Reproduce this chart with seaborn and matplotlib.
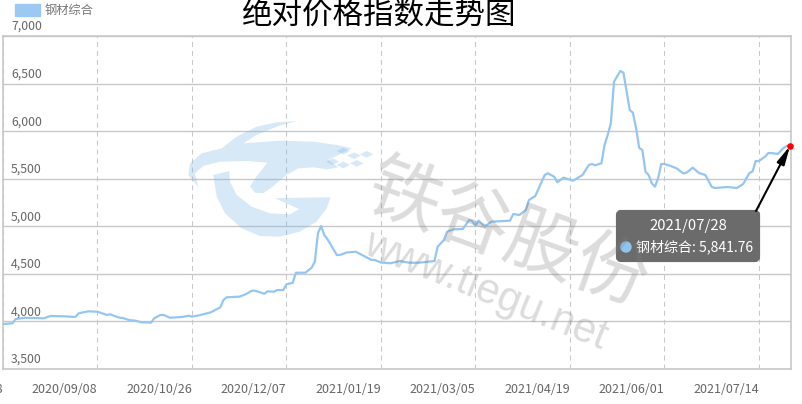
import matplotlib
matplotlib.use("Agg")
import matplotlib.pyplot as plt
import pandas as pd
import seaborn as sns
from matplotlib.patches import FancyArrowPatch, FancyBboxPatch, Patch, Polygon, Circle

# trading-day position of each vertex
day_index = [0, 3, 4, 7, 9, 13, 15, 19, 23, 24, 27, 30, 33, 34, 37, 38, 40, 42, 44, 47,
             48, 50, 51, 53, 57, 59, 60, 62, 66, 69, 70, 71, 75, 77, 79, 80, 83, 84, 86, 87,
             89, 90, 92, 93, 96, 98, 99, 100, 101, 102, 103, 106, 107, 109, 112, 114, 117, 118, 120, 123,
             126, 129, 132, 137, 138, 140, 141, 143, 146, 148, 149, 150, 151, 153, 155, 161, 162, 164, 166, 167,
             169, 172, 173, 175, 176, 178, 181, 184, 186, 187, 188, 190, 191, 192, 193, 194, 196, 197, 199, 200,
             201, 202, 203, 204, 205, 206, 207, 208, 209, 210, 212, 214, 216, 217, 219, 221, 223, 225, 226, 228,
             230, 233, 235, 237, 238, 239, 240, 242, 243, 244, 246, 248, 249, 250]
index_values = [3973, 3980, 4025, 4039, 4036, 4033, 4057, 4054, 4047, 4085, 4106, 4102, 4068, 4075, 4039, 4036, 4015, 4008, 3991, 3987,
                4033, 4068, 4068, 4039, 4047, 4060, 4050, 4062, 4096, 4148, 4225, 4254, 4260, 4285, 4323, 4323, 4291, 4317, 4312, 4330,
                4330, 4390, 4407, 4512, 4512, 4565, 4628, 4926, 5003, 4908, 4866, 4698, 4698, 4724, 4733, 4698, 4646, 4646, 4619, 4611,
                4635, 4617, 4617, 4635, 4785, 4856, 4943, 4968, 4971, 5066, 5055, 5003, 5059, 4996, 5048, 5059, 5129, 5119, 5171, 5276,
                5318, 5539, 5557, 5521, 5462, 5511, 5479, 5539, 5644, 5655, 5641, 5662, 5854, 5959, 6082, 6519, 6632, 6614, 6222, 6194,
                6033, 5823, 5802, 5574, 5539, 5452, 5416, 5504, 5655, 5655, 5634, 5607, 5555, 5563, 5616, 5560, 5539, 5416, 5402, 5408,
                5413, 5402, 5444, 5560, 5576, 5686, 5686, 5733, 5770, 5770, 5760, 5828, 5847, 5841.76]

tick_days = [0, 30, 60, 90, 120, 150, 180, 210, 240]
tick_dates = ["2020/07/28", "2020/09/08", "2020/10/26", "2020/12/07", "2021/01/19",
              "2021/03/05", "2021/04/19", "2021/06/01", "2021/07/14"]
y_ticks = [3500, 4000, 4500, 5000, 5500, 6000, 6500, 7000]

series_name = "钢材综合"
last_date = "2021/07/28"
last_value = "5,841.76"

LINE_COLOR = "#95c6f2"
GRID_COLOR = "#c8c8c8"
TEXT_COLOR = "#666666"
WIDTH, HEIGHT = 803, 404

sns.set_theme(style="white")
plt.rcParams["font.family"] = ["Noto Sans CJK SC", "DejaVu Sans"]

fig = plt.figure(figsize=(WIDTH / 100, HEIGHT / 100), dpi=100)
ax = fig.add_axes([3 / WIDTH, 1 - 369 / HEIGHT, 788 / WIDTH, 333 / HEIGHT])

df = pd.DataFrame({"day": day_index, "value": index_values})
sns.lineplot(data=df, x="day", y="value", color=LINE_COLOR, linewidth=1.6, ax=ax, zorder=3)
ax.scatter(day_index[-1], index_values[-1], s=14, color="red", zorder=4, clip_on=False)

ax.set_xlim(0, 250.2)
ax.set_ylim(3500, 7000)
ax.set_xlabel("")
ax.set_ylabel("")

ax.set_xticks(tick_days)
ax.set_xticklabels(tick_dates, ha="right", fontsize=9, color=TEXT_COLOR)
ax.set_yticks(y_ticks)
ax.set_yticklabels([])
ax.tick_params(axis="both", length=0)
ax.tick_params(axis="x", pad=10)
ax.grid(axis="y", color=GRID_COLOR, linewidth=1, linestyle="-")
ax.grid(axis="x", color=GRID_COLOR, linewidth=0.75, linestyle=(0, (4.8, 3.8)))
ax.set_axisbelow(True)
for spine in ax.spines.values():
    spine.set_color(GRID_COLOR)
    spine.set_linewidth(1.2)

# value labels sit inside the plot, just above their grid line
for tick in y_ticks:
    ax.annotate(f"{tick:,}", xy=(0, tick), xycoords=ax.get_yaxis_transform(),
                xytext=(8, 3), textcoords="offset pixels", ha="left", va="bottom",
                fontsize=8.8, color=TEXT_COLOR, annotation_clip=False)

fig.legend(handles=[Patch(color="#9cc9f3", label=series_name)], loc="upper left",
           bbox_to_anchor=(6 / WIDTH, 1.012), frameon=False, fontsize=8.8,
           handlelength=2.05, handleheight=1.15, handletextpad=0.42,
           labelcolor="#777777", borderpad=0.2)

fig.suptitle("绝对价格指数走势图", x=379 / WIDTH, y=1 - 15 / HEIGHT, va="center",
             fontsize=22, color="black")

# overlay in image pixels for the tooltip, arrow and watermark
overlay = fig.add_axes([0, 0, 1, 1], zorder=5)
overlay.set_xlim(0, WIDTH)
overlay.set_ylim(HEIGHT, 0)
overlay.axis("off")
overlay.patch.set_alpha(0)

overlay.add_patch(FancyBboxPatch((618, 212), 140, 48, boxstyle="round,pad=0,rounding_size=3",
                                 mutation_aspect=1, facecolor="#6b6b6b", edgecolor="#6b6b6b",
                                 linewidth=3, zorder=2))
overlay.text(688, 226, last_date, ha="center", va="center", fontsize=10.7, color="white", zorder=3)
overlay.add_patch(Circle((626, 247), 5, color="#90c4f0", zorder=3))
overlay.text(636, 247, f"{series_name}: {last_value}", ha="left", va="center", fontsize=10.1,
             color="white", zorder=3)
overlay.add_patch(FancyArrowPatch((756, 211), (790, 146),
                                  arrowstyle="-|>,head_length=11,head_width=2.4",
                                  color="black", linewidth=1.5, shrinkA=0, shrinkB=0, zorder=3))


def crop_xy(points):
    # logo outline was traced on a 3x crop starting at (180, 110)
    return [(180 + px / 3, 110 + py / 3) for px, py in points]


logo_color = (0.47, 0.70, 0.90, 0.29)
swoosh = [(55, 232), (25, 195), (30, 160), (65, 130), (125, 115), (170, 80), (230, 50), (290, 37),
          (350, 33), (290, 50), (230, 75), (190, 100), (300, 92), (400, 95), (470, 105), (515, 115),
          (475, 135), (445, 150), (475, 172), (440, 178), (400, 172), (355, 175), (320, 195),
          (275, 232), (250, 250), (225, 248), (210, 230), (225, 205), (262, 158), (200, 153),
          (120, 155), (70, 168), (45, 190)]
g_ring = [(100, 195), (148, 183), (150, 215), (170, 255), (215, 290), (270, 310), (330, 313),
          (358, 297), (285, 265), (360, 263), (452, 262), (440, 295), (410, 335), (360, 365),
          (300, 380), (240, 378), (185, 355), (135, 310), (110, 260)]
overlay.add_patch(Polygon(crop_xy(swoosh), closed=True, facecolor=logo_color, edgecolor="none", zorder=4))
overlay.add_patch(Polygon(crop_xy(g_ring), closed=True, facecolor=logo_color, edgecolor="none", zorder=4))
for cx, cy in [(490, 123), (522, 137), (560, 133), (458, 155), (490, 165), (530, 160)]:
    diamond = [(cx - 20, cy), (cx, cy - 10), (cx + 20, cy), (cx, cy + 10)]
    overlay.add_patch(Polygon(crop_xy(diamond), closed=True, facecolor=logo_color, edgecolor="none", zorder=4))

overlay.text(507, 236, "铁谷股份", rotation=-20, rotation_mode="anchor", ha="center", va="center",
             fontsize=53, color="#808080", alpha=0.28, zorder=5)
overlay.text(485, 291, "www.tiegu.net", rotation=-22, rotation_mode="anchor", ha="center", va="center",
             fontsize=30, family="Liberation Sans", color="#808080", alpha=0.28, zorder=5)

fig.savefig("out.png", dpi=100)
